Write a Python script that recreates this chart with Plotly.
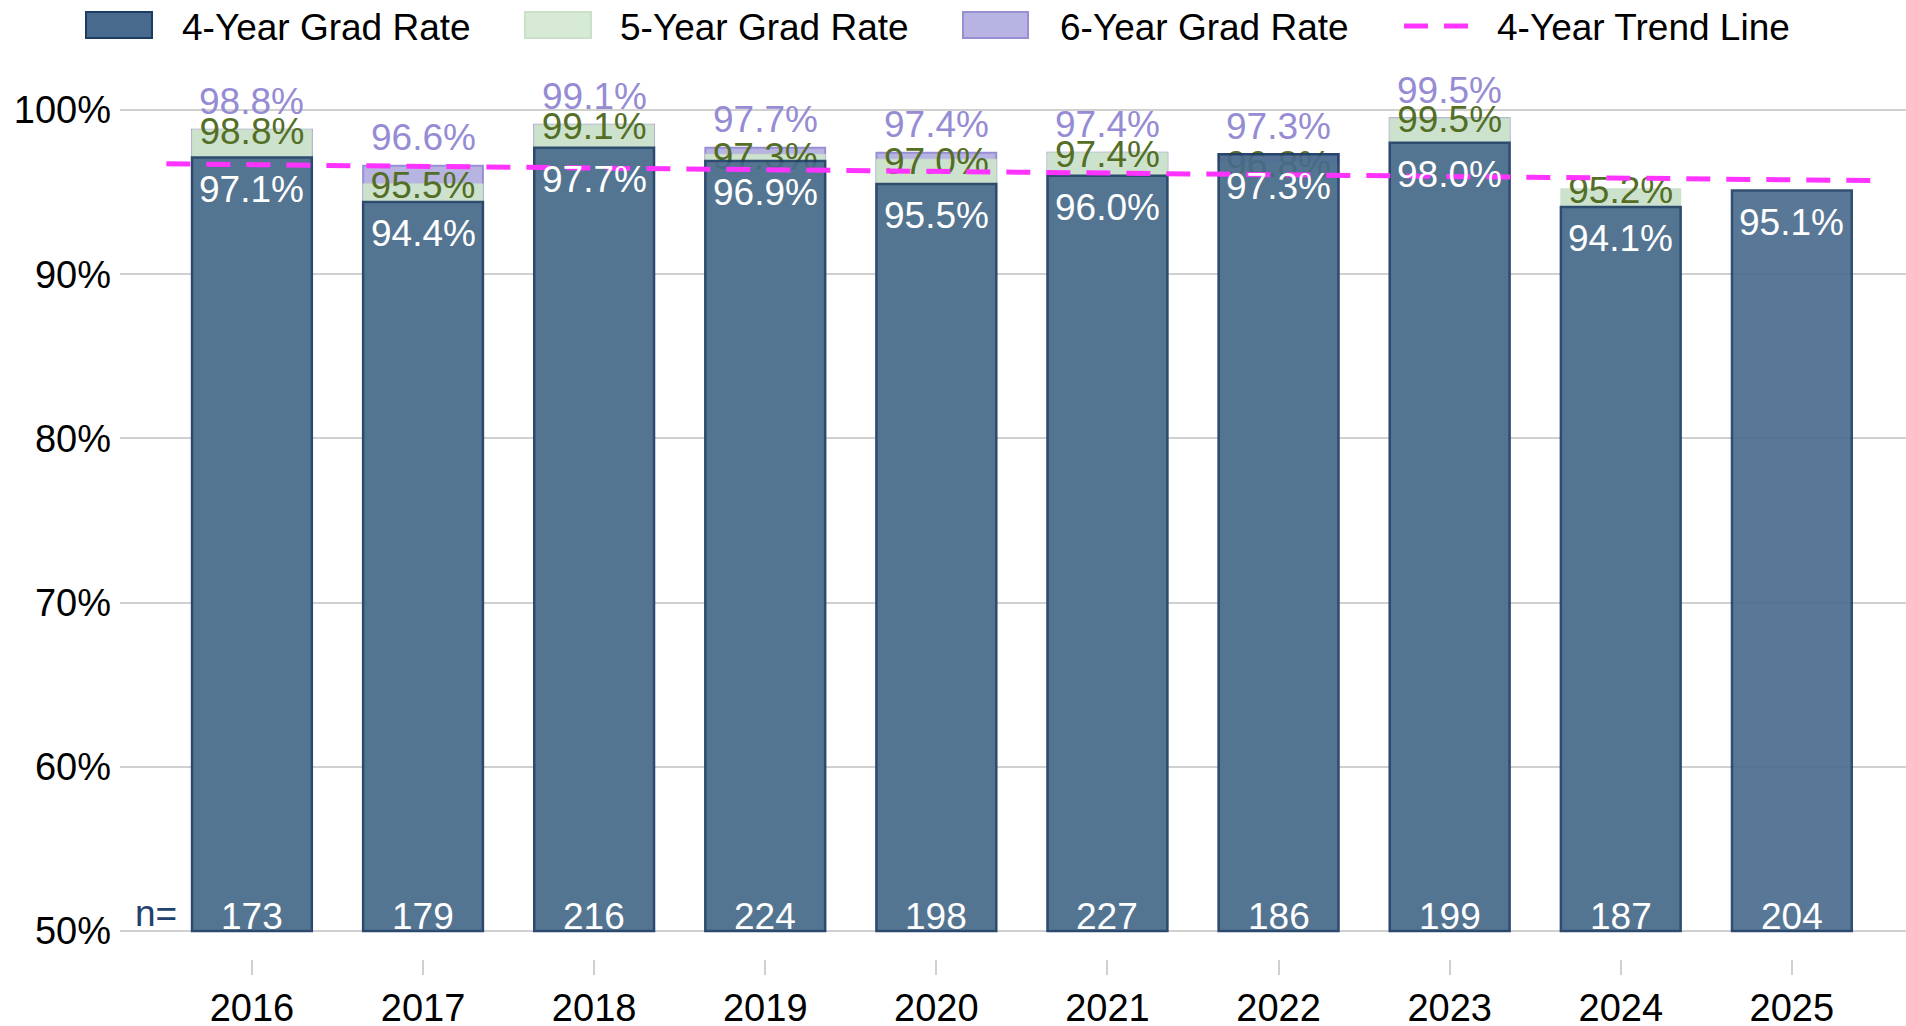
import numpy as np
import plotly.graph_objects as go

# ---------------- data ----------------
years = [2016, 2017, 2018, 2019, 2020, 2021, 2022, 2023, 2024, 2025]
rate4 = [97.1, 94.4, 97.7, 96.9, 95.5, 96.0, 97.3, 98.0, 94.1, 95.1]
rate5 = [98.8, 95.5, 99.1, 97.3, 97.0, 97.4, 96.8, 99.5, 95.2, None]
rate6 = [98.8, 96.6, 99.1, 97.7, 97.4, 97.4, 97.3, 99.5, None, None]
cohort_n = [173, 179, 216, 224, 198, 227, 186, 199, 187, 204]
base_value = 50
legend_labels = ["4-Year Grad Rate", "5-Year Grad Rate", "6-Year Grad Rate", "4-Year Trend Line"]

# ---------------- style / layout ----------------
W, H = 1906, 1026
ML, MR, MT, MB = 120, 0, 60, 67
PW, PH = W - ML - MR, H - MT - MB
Y_RANGE = [48.295, 103.045]
X_RANGE = [2015.229, 2025.667]
FONT = "Liberation Sans, Arial, Helvetica, sans-serif"
FS = 37
FS_TICK = 38

C4_FILL = "rgb(72,106,140)"
C4_LINE = "rgb(28,60,100)"
C5_FILL = "rgb(205,226,205)"
C5_LINE = "rgb(200,222,200)"
C6_FILL = "rgb(184,180,226)"
C6_LINE = "rgb(152,142,212)"
C5_TEXT = "rgb(84,110,38)"
C6_TEXT = "rgb(150,140,212)"
TREND = "rgb(255,51,255)"
GRID = "rgb(208,208,208)"
N_COLOR = "rgb(35,65,110)"
BAR_W = 0.7
UNITS_PER_PX = (Y_RANGE[1] - Y_RANGE[0]) / PH
LABEL5_DROP_PX = 5


def px_to_paper_x(px):
    return (px - ML) / PW


def px_to_paper_y(py):
    return (MT + PH - py) / PH


def heights(vals):
    return [None if v is None else v - base_value for v in vals]


fig = go.Figure()

# back layer: 6-year and 5-year bars
fig.add_trace(go.Bar(x=years, y=heights(rate6), base=base_value, width=BAR_W,
                     marker=dict(color=C6_FILL, line=dict(color=C6_LINE, width=2)),
                     name=legend_labels[2], showlegend=False, hoverinfo="skip"))
fig.add_trace(go.Bar(x=years, y=heights(rate5), base=base_value, width=BAR_W,
                     marker=dict(color=C5_FILL, line=dict(color=C5_LINE, width=1)),
                     name=legend_labels[1], showlegend=False, hoverinfo="skip"))
# 5-year labels (drawn under the 4-year bars)
fig.add_trace(go.Scatter(x=years,
                         y=[None if v is None else v - LABEL5_DROP_PX * UNITS_PER_PX for v in rate5],
                         mode="text",
                         text=[None if v is None else f"{v:.1f}%" for v in rate5],
                         textposition="middle center",
                         textfont=dict(family=FONT, size=FS, color=C5_TEXT),
                         showlegend=False, hoverinfo="skip"))

# front layer (overlaid axis): 4-year bars and trend
fig.add_trace(go.Bar(x=years, y=heights(rate4), base=base_value, width=BAR_W, yaxis="y2",
                     marker=dict(color=C4_FILL, opacity=0.9, line=dict(color=C4_LINE, width=2.5)),
                     name=legend_labels[0], showlegend=False, hoverinfo="skip"))

coef = np.polyfit(years, rate4, 1)
trend_x = [years[0] - 0.5, years[-1] + 0.5]
trend_y = list(np.polyval(coef, trend_x))
fig.add_trace(go.Scatter(x=trend_x, y=trend_y, mode="lines", yaxis="y2",
                         line=dict(color=TREND, width=5, dash="24px,16px"),
                         name=legend_labels[3], showlegend=False, hoverinfo="skip"))

annotations = []
for yr, v4, v6, n in zip(years, rate4, rate6, cohort_n):
    annotations.append(dict(x=yr, y=v4, xref="x", yref="y", text=f"{v4:.1f}%",
                            showarrow=False, yanchor="middle", yshift=-32,
                            font=dict(family=FONT, size=FS, color="white")))
    if v6 is not None:
        annotations.append(dict(x=yr, y=v6, xref="x", yref="y", text=f"{v6:.1f}%",
                                showarrow=False, yanchor="middle", yshift=28,
                                font=dict(family=FONT, size=FS, color=C6_TEXT)))
    annotations.append(dict(x=yr, y=base_value, xref="x", yref="y", text=str(n),
                            showarrow=False, yanchor="middle", yshift=15,
                            font=dict(family=FONT, size=FS, color="white")))
annotations.append(dict(x=years[0], y=base_value, xref="x", yref="y", text="n=",
                        showarrow=False, yanchor="middle", yshift=18, xshift=-96,
                        font=dict(family=FONT, size=FS, color=N_COLOR)))

# custom legend
shapes = []
legend_items = [
    (86, 152, 180, "rect", C4_FILL, C4_LINE),
    (525, 591, 618, "rect", "rgb(214,234,214)", "rgb(200,225,200)"),
    (963, 1028, 1058, "rect", C6_FILL, C6_LINE),
    (1404, 1469, 1495, "dash", TREND, TREND),
]
for (x0, x1, tx, kind, fill, line), label in zip(legend_items, legend_labels):
    if kind == "rect":
        shapes.append(dict(type="rect", xref="paper", yref="paper",
                           x0=px_to_paper_x(x0), x1=px_to_paper_x(x1),
                           y0=px_to_paper_y(38), y1=px_to_paper_y(12),
                           fillcolor=fill, line=dict(color=line, width=2), layer="above"))
    else:
        shapes.append(dict(type="line", xref="paper", yref="paper",
                           x0=px_to_paper_x(x0), x1=px_to_paper_x(x1),
                           y0=px_to_paper_y(26), y1=px_to_paper_y(26),
                           line=dict(color=fill, width=5, dash="24px,16px"), layer="above"))
    annotations.append(dict(x=px_to_paper_x(tx), y=px_to_paper_y(27), xref="paper", yref="paper",
                            text=label, showarrow=False, xanchor="left", yanchor="middle",
                            font=dict(family=FONT, size=FS, color="black")))

fig.update_layout(
    width=W, height=H,
    margin=dict(l=ML, r=MR, t=MT, b=MB, autoexpand=False),
    paper_bgcolor="white", plot_bgcolor="white",
    barmode="overlay", showlegend=False,
    font=dict(family=FONT, size=FS, color="black"),
    xaxis=dict(range=X_RANGE, tickvals=years, ticktext=[str(y) for y in years],
               ticks="outside", ticklen=15, tickwidth=2, tickcolor=GRID,
               showgrid=False, showline=False, zeroline=False,
               tickfont=dict(family=FONT, size=FS_TICK, color="black")),
    yaxis=dict(range=Y_RANGE, tick0=50, dtick=10, ticksuffix="%",
               showgrid=True, gridcolor=GRID, gridwidth=2, zeroline=False,
               showline=False, ticks="", ticklabelstandoff=8,
               tickfont=dict(family=FONT, size=FS_TICK, color="black")),
    yaxis2=dict(range=Y_RANGE, overlaying="y", visible=False, showgrid=False),
    annotations=annotations, shapes=shapes,
)

fig.write_html("out.html", config={"displayModeBar": False})

# remove the default page margin so the figure sits at the window's top-left corner
with open("out.html", "r", encoding="utf-8") as f:
    page = f.read()
page = page.replace("<head>", "<head><style>html,body{margin:0;padding:0;overflow:hidden;}</style>", 1)
with open("out.html", "w", encoding="utf-8") as f:
    f.write(page)
